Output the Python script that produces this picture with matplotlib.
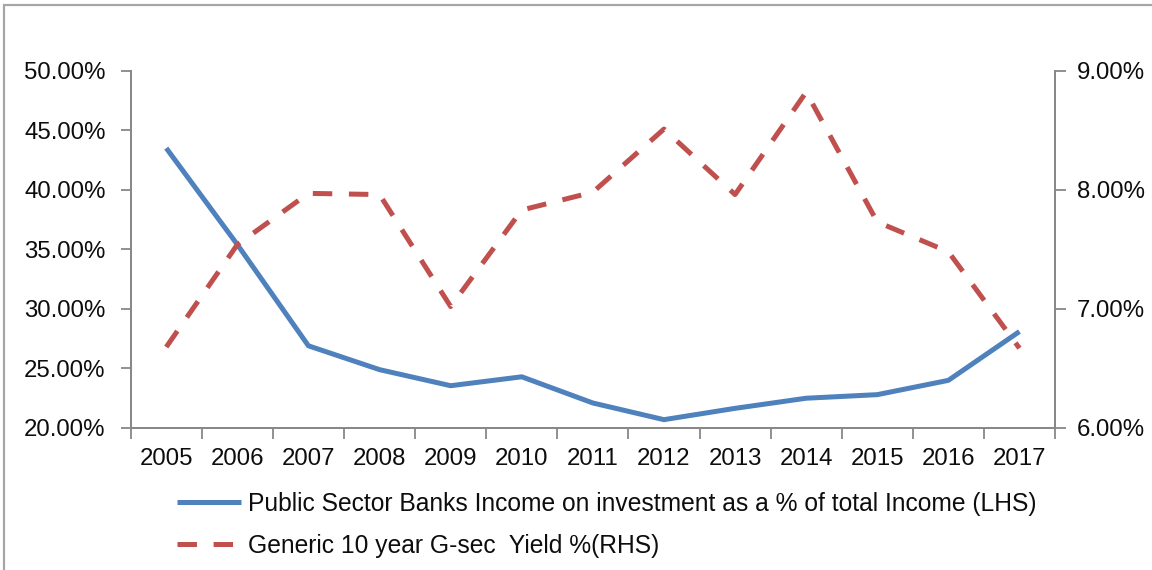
import matplotlib
matplotlib.use("Agg")
import matplotlib.pyplot as plt
from matplotlib.patches import Rectangle
from matplotlib.ticker import FuncFormatter, FixedLocator

years = ["2005", "2006", "2007", "2008", "2009", "2010", "2011",
         "2012", "2013", "2014", "2015", "2016", "2017"]
psb_income_pct = [43.5, 35.4, 26.9, 24.9, 23.55, 24.3, 22.1,
                  20.7, 21.65, 22.5, 22.8, 24.0, 28.1]
gsec_yield_pct = [6.68, 7.54, 7.97, 7.96, 7.02, 7.83, 7.98,
                  8.51, 7.96, 8.82, 7.73, 7.48, 6.67]
label_lhs = "Public Sector Banks Income on investment as a % of total Income (LHS)"
label_rhs = "Generic 10 year G-sec  Yield %(RHS)"
left_ticks = [20, 25, 30, 35, 40, 45, 50]
right_ticks = [6, 7, 8, 9]

plt.rcParams['font.family'] = ['Liberation Sans', 'DejaVu Sans']
plt.rcParams['lines.scale_dashes'] = False

W, H = 1152, 570
fig = plt.figure(figsize=(W / 100, H / 100), dpi=100)
fig.patch.set_facecolor('white')

# outer chart border (extends beyond right/bottom edges)
fig.patches.append(Rectangle((4 / W, -0.1), 1.2, (H - 5) / H + 0.1,
                             transform=fig.transFigure, fill=False,
                             edgecolor='#a6a6a6', linewidth=1.6))

ax = fig.add_axes([130.7 / W, 1 - 428 / H, (1055 - 130.7) / W, (428 - 70.7) / H])
ax2 = ax.twinx()

BLUE = '#4F81BD'
RED = '#C0504D'
GRAY = '#878787'
FS = 17.3
TXT = '#0d0d0d'

x = list(range(len(years)))
l1, = ax.plot(x, psb_income_pct, color=BLUE, lw=3.6, solid_joinstyle='round',
              solid_capstyle='butt', label=label_lhs, zorder=3)
l2, = ax2.plot(x, gsec_yield_pct, color=RED, lw=3.6, dashes=(14, 12),
               dash_capstyle='butt', label=label_rhs, zorder=3)

ax.set_xlim(-0.5, len(years) - 0.5)
ax.set_ylim(20, 50)
ax2.set_ylim(6, 9)
ax.set_yticks(left_ticks)
ax2.set_yticks(right_ticks)
ax.yaxis.set_major_formatter(FuncFormatter(lambda v, p: f"{v:.2f}%"))
ax2.yaxis.set_major_formatter(FuncFormatter(lambda v, p: f"{v:.2f}%"))

ax.xaxis.set_major_locator(FixedLocator([i - 0.5 for i in range(len(years) + 1)]))
ax.xaxis.set_minor_locator(FixedLocator(x))
ax.set_xticklabels([])
ax.set_xticklabels(years, minor=True)

for a in (ax, ax2):
    for s in a.spines.values():
        s.set_color(GRAY)
        s.set_linewidth(1.3)
    a.spines['top'].set_visible(False)
    a.set_facecolor('none')

ax.tick_params(axis='x', which='major', direction='out', length=8, width=1.3, color=GRAY)
ax.tick_params(axis='x', which='minor', length=0, pad=14.5, labelsize=FS, labelcolor=TXT)
ax.tick_params(axis='y', direction='out', length=7, width=1.3, color=GRAY, pad=11,
               labelsize=FS, labelcolor=TXT)
ax2.tick_params(axis='y', direction='out', length=8, width=1.3, color=GRAY, pad=8,
                labelsize=FS, labelcolor=TXT)

leg = fig.legend(handles=[l1, l2], loc='upper left', bbox_to_anchor=(177 / W, 1 - 492 / H),
                 frameon=False, fontsize=17.7, handlelength=2.6, handletextpad=0.3,
                 labelspacing=0.72, borderpad=0, borderaxespad=0)
for t in leg.get_texts():
    t.set_color(TXT)

fig.savefig('out.png', dpi=100, facecolor='white')
